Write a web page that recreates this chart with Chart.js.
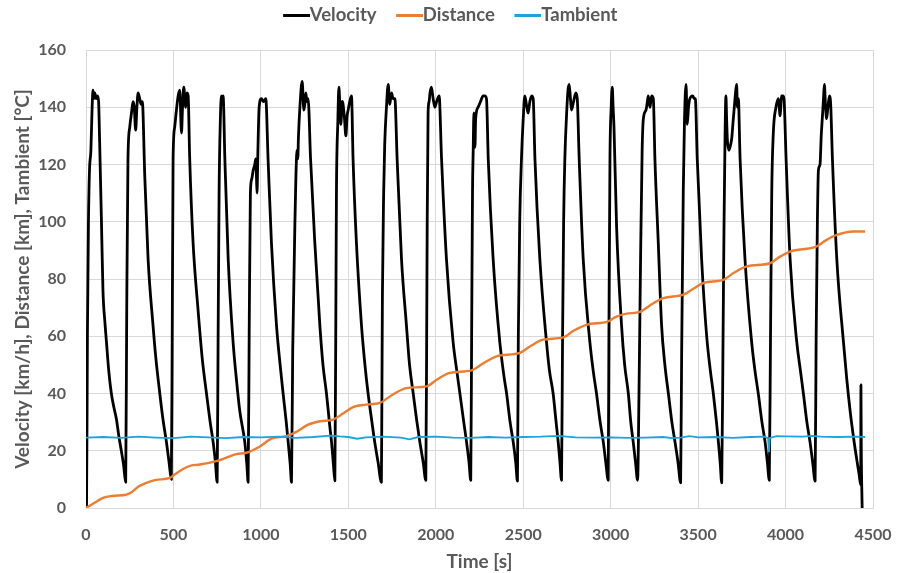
<!DOCTYPE html>
<html><head><meta charset="utf-8">
<script src="https://cdn.jsdelivr.net/npm/chart.js@4/dist/chart.umd.min.js"></script>
<style>html,body{margin:0;padding:0;background:#fff}</style>
</head><body>
<canvas id="c" width="900" height="573"></canvas>
<script>
// ---- data ----
const seriesNames = ['Velocity', 'Distance', 'Tambient'];
const xTicks = [0, 500, 1000, 1500, 2000, 2500, 3000, 3500, 4000, 4500];
const yTicks = [0, 20, 40, 60, 80, 100, 120, 140, 160];

const velocityTime = [
 0,3,8,14,20,28,35,40,45,50,58,66,72,78,88,97,108,117,130,145,160,174,188,202,215,227,
 233,240,250,260,269,276,284,291,298,307,315,322,336,355,383,400,422,440,460,475,488,
 493,498,507,517,527,536,546,552,559,570,577,584,593,612,641,665,689,710,727,740,750,
 755,761,768,774,779,784,794,813,841,860,879,908,920,927,
 933,940,948,956,965,971,975,978,983,990,1003,1015,1028,1041,1060,1089,1110,1127,1145,1156,1168,1175,
 1182,1194,1207,1211,1215,1223,1236,1246,1251,1257,1263,1270,1284,1308,1337,1355,1375,1395,1404,1415,1423,
 1428,1432,1440,1446,1452,1457,1465,1470,1478,1486,1493,1499,1508,1518,1527,1546,1575,1595,1613,1635,1651,1670,1689,
 1692,1695,1702,1708,1718,1728,1737,1747,1756,1766,1779,1804,1832,1850,1871,1890,1909,1928,1943,
 1948,1951,1956,1962,1967,1975,1985,1995,2005,2019,2033,2061,2099,2120,2138,2160,2176,2190,2200,
 2205,2210,2214,2218,2220,2224,2228,2242,2256,2271,2280,2290,2300,2328,2366,2390,2405,2425,2443,2457,2467,
 2472,2480,2490,2500,2509,2518,2528,2538,2548,2557,2567,2595,2633,2650,2671,2688,2700,2710,2719,
 2725,2731,2738,2750,2756,2763,2770,2776,2788,2801,2809,2820,2843,2881,2900,2919,2940,2958,2972,2986,
 2990,2996,3003,3009,3014,3019,3034,3062,3080,3101,3115,3129,3142,3154,
 3162,3171,3180,3187,3202,3210,3215,3225,3234,3244,3253,3272,3291,3310,3330,3350,3368,3385,3400,
 3406,3415,3422,3431,3438,3445,3453,3469,3478,3484,3495,3520,3549,3570,3587,3605,3616,3626,3635,
 3642,3648,3654,3659,3663,3667,3675,3682,3692,3700,3707,3714,3720,3725,3730,3740,3768,3806,3825,3844,3865,3883,3896,3907,
 3914,3921,3930,3945,3952,3959,3964,3968,3978,3985,3991,4003,4026,4064,4085,4102,4122,4140,4155,4169,
 4175,4182,4188,4197,4204,4211,4217,4222,4228,4235,4242,4251,4258,4268,4293,4331,4350,4369,4390,4407,4420,4430,4431,4433,4438
];
const velocityValue = [
 0,0,60,100,118,125,140,146,143,145,143,144,142,128,101,76,65,58,48,40,35,31,25,20,15,9,
 70,122,133,138,142,140,132,140,145,143,141,142,116,87,64,52,40,31,23,16,10,
 60,122,133,139,144,146,131,140,147,140,145,144,122,93,69,52,40,30,23,16,9,
 55,110,135,144,143,144,122,87,58,45,34,23,15,9,
 60,110,115,118,120,122,115,110,125,140,143,142,143,122,93,64,50,40,30,23,15,9,
 55,98,125,122,130,140,149,139,141,145,142,143,122,93,64,50,40,28,23,15,9.5,
 60,110,135,147,140,134,142,141,136,130,137,139,142,144,122,93,64,50,40,30,23,16,9,
 40,75,110,127,140,148,141,145,143,143,122,87,64,50,40,31,23,16,9.7,
 60,100,138,142,145,147,143,140,142,144,122,87,58,48,40,30,23,16,9.7,
 60,110,125,138,127,126,136,140,142,144,144,143,122,87,58,46,40,30,23,16,9.4,
 60,100,122,136,144,141,138,142,144,143,122,87,58,48,40,30,23,16,9.7,
 60,100,122,140,146,148,143,139,142,145,143,122,87,58,48,40,30,23,16,9.7,
 60,122,140,147,140,133,98,64,50,40,30,23,16,9.7,
 40,87,125,136,139,142,144,140,144,143,122,93,64,50,40,30,23,16,8.8,
 55,110,135,148,134,140,143,144,143,143,122,87,60,48,40,30,23,16,8.8,
 55,98,130,144,136,129,125,126,129,135,140,145,148,140,143,122,87,58,48,40,30,23,16,9.7,
 60,110,131,140,142,143,140,137,144,144,143,122,87,58,48,40,30,23,16,9.4,
 60,100,118,120,130,137,143,148,141,136,140,144,141,122,87,58,45,34,24,17,12,8,43,20,0
];

const distanceTime = [0,40,97,150,231,260,300,345,400,479,507,560,600,651,746,800,860,917,994,1060,1146,1200,1270,1340,1413,1470,1530,1600,1680,1750,1832,1947,2010,2080,2204,2270,2347,2481,2540,2614,2729,2790,2862,2986,3030,3091,3167,3230,3301,3415,3470,3530,3644,3700,3778,3911,3960,4026,4178,4230,4293,4388,4455];
const distanceValue = [0,1.5,3.5,4.2,4.7,5.5,7.5,8.8,9.8,10.5,11.7,13.8,14.8,15.2,16.4,17.5,18.8,19.3,21.5,24.2,25.1,26.5,29.1,30.3,30.9,33,35.3,36.1,36.7,39.5,41.9,42.5,45,47.2,48.1,50.5,53,54.2,56.5,58.8,59.6,62,64,65.2,66.8,67.9,68.5,71,73.3,74.5,76.5,78.6,79.7,82,84.4,85.5,87.5,89.6,91.4,93.5,95.4,96.6,96.6];

const tambientTime = [0,100,200,300,400,500,600,700,800,900,1000,1100,1200,1300,1400,1450,1500,1550,1600,1700,1800,1850,1900,2000,2100,2200,2300,2400,2500,2600,2700,2800,2900,3000,3100,3200,3300,3350,3400,3450,3500,3600,3700,3800,3880,3900,3905,3910,3950,4000,4100,4150,4200,4300,4400,4455];
const tambientValue = [24.6,24.8,24.5,24.9,24.6,24.4,24.9,24.7,24.4,24.8,24.7,24.9,24.5,24.8,25.3,25.0,24.8,24.2,24.7,24.9,24.6,24.0,24.8,24.9,24.6,24.5,24.8,24.6,24.8,24.9,25.2,24.7,24.6,24.7,24.5,24.6,24.8,24.4,24.6,25.1,24.7,24.8,24.5,24.8,24.9,24.3,19.5,24.5,25.1,25.0,24.9,25.2,24.9,24.8,24.9,24.8];

const seriesColors = ['#000000', '#ED7D31', '#1BA3DE'];

// ---- chart ----
const FONT = 'Lato, "Open Sans", sans-serif';
const TEXT = '#595959';
const LEG_FS = 18.5, LEG_PAD = 19, LEG_BOX = 18;
function pts(t, v) { return t.map((x, i) => ({x: x, y: v[i]})); }
function legendLine(color) {
  const w = Math.round(LEG_BOX + LEG_FS);
  const c = document.createElement('canvas');
  c.width = w; c.height = 3;
  const g = c.getContext('2d');
  g.fillStyle = color;
  g.fillRect(w - 27, 0, 27, 3);
  return c;
}

const legendFix = {
  id: 'legendFix',
  beforeDraw(chart) {
    const lg = chart.legend;
    if (lg) { lg.top = 15 - LEG_PAD - LEG_FS / 2; lg.left = 0; lg.right = 900; }
  }
};

new Chart(document.getElementById('c'), {
  type: 'line',
  data: {
    datasets: [
      { label: seriesNames[0], data: pts(velocityTime, velocityValue), borderColor: seriesColors[0], backgroundColor: seriesColors[0],
        borderWidth: 2.8, pointRadius: 0, cubicInterpolationMode: 'monotone', borderJoinStyle: 'round', order: 3, pointStyle: legendLine(seriesColors[0]) },
      { label: seriesNames[1], data: pts(distanceTime, distanceValue), borderColor: seriesColors[1], backgroundColor: seriesColors[1],
        borderWidth: 2.4, pointRadius: 0, cubicInterpolationMode: 'monotone', order: 2, pointStyle: legendLine(seriesColors[1]) },
      { label: seriesNames[2], data: pts(tambientTime, tambientValue), borderColor: seriesColors[2], backgroundColor: seriesColors[2],
        borderWidth: 1.8, pointRadius: 0, tension: 0, order: 1, pointStyle: legendLine(seriesColors[2]) }
    ]
  },
  options: {
    responsive: false,
    animation: false,
    devicePixelRatio: 1,
    layout: { padding: { left: 0, right: 27, top: 50 - (LEG_FS + LEG_PAD + 10), bottom: 0 } },
    plugins: {
      legend: {
        position: 'top',
        align: 'center',
        labels: {
          usePointStyle: true,
          pointStyleWidth: LEG_BOX,
          padding: LEG_PAD,
          color: TEXT,
          font: { family: FONT, size: LEG_FS, weight: 'bold' },
          sort: (a, b) => a.datasetIndex - b.datasetIndex
        }
      },
      tooltip: { enabled: false }
    },
    scales: {
      x: {
        type: 'linear', min: 0, max: 4500,
        afterBuildTicks: s => { s.ticks = xTicks.map(v => ({value: v})); },
        afterFit: s => { s.height = 65; s.paddingLeft = 0; s.paddingRight = 0; },
        grid: { color: '#D9D9D9', drawTicks: false },
        border: { color: '#D9D9D9' },
        ticks: { color: TEXT, padding: 17, font: { family: FONT, size: 16, weight: 'bold' }, maxRotation: 0,
                 callback: v => String(v) },
        title: { display: true, text: 'Time [s]', color: TEXT, padding: { top: 0, bottom: 0 },
                 font: { family: FONT, size: 19, weight: 'bold' } }
      },
      y: {
        type: 'linear', min: 0, max: 160,
        afterBuildTicks: s => { s.ticks = yTicks.map(v => ({value: v})); },
        afterFit: s => { s.width = 86; s.paddingTop = 0; s.paddingBottom = 0; },
        grid: { color: '#D9D9D9', drawTicks: false },
        border: { color: '#D9D9D9' },
        ticks: { color: TEXT, padding: 20, font: { family: FONT, size: 16, weight: 'bold' },
                 callback: v => String(v) },
        title: { display: true, text: 'Velocity [km/h], Distance [km], Tambient [°C]', color: TEXT,
                 padding: { top: 11.5, bottom: 0 }, font: { family: FONT, size: 19, weight: 'bold' } }
      }
    }
  },
  plugins: [legendFix]
});
</script>
</body></html>
